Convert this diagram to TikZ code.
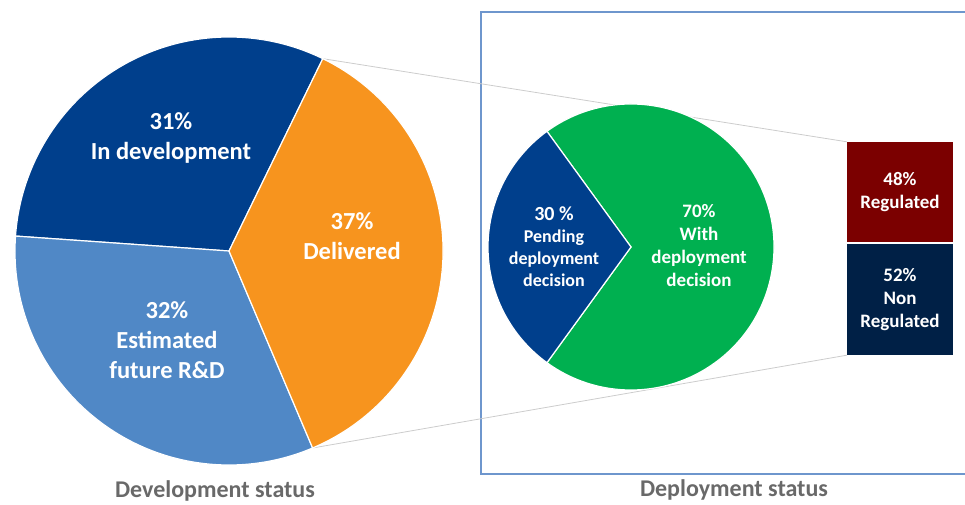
\documentclass[tikz,border=0pt]{standalone}
\usepackage{fontspec}
\setmainfont{Carlito}
\usepackage{tikz}
\usetikzlibrary{positioning,calc}

\definecolor{devblue}{RGB}{0,63,140}
\definecolor{delorange}{RGB}{247,148,30}
\definecolor{futblue}{RGB}{80,136,198}
\definecolor{depgreen}{RGB}{0,176,80}
\definecolor{regred}{RGB}{123,0,0}
\definecolor{nonnavy}{RGB}{0,32,70}
\definecolor{boxblue}{RGB}{110,150,205}
\definecolor{titlegray}{RGB}{105,105,105}

\begin{document}
\begin{tikzpicture}[x=1pt,y=1pt,
  slice/.style={draw=white,line width=1.2pt},
  biglbl/.style={text=white,align=center,font=\bfseries\fontsize{24.5}{30}\selectfont},
  smalllbl/.style={text=white,align=center,font=\bfseries\fontsize{18}{22}\selectfont},
  bar/.style={minimum width=106pt,text=white,align=center,inner sep=0pt,
    font=\bfseries\fontsize{19}{23}\selectfont},
  title/.style={text=titlegray,font=\bfseries\fontsize{24}{28}\selectfont}]
  \useasboundingbox (0,0) rectangle (965,504);

  % zoom frame
  \draw[boxblue,line width=1.2pt] (965,492) -- (481,492) -- (481,30) -- (965,30);

  % regulation bars
  \node[bar,fill=regred,minimum height=100pt] (reg) at (900,312) {48\%\\Regulated};
  \node[bar,fill=nonnavy,minimum height=111pt] (nonreg) at (900,204.5) {52\%\\Non\\Regulated};

  % development pie
  \coordinate (dc) at (229,253);
  \coordinate (dtop) at ($(dc)+(64:214)$);
  \coordinate (dbot) at ($(dc)+(-67:214)$);
  \draw[gray!40,line width=0.8pt] (dtop) -- (reg.north west);
  \draw[gray!40,line width=0.8pt] (dbot) -- (nonreg.south west);
  \filldraw[slice,fill=devblue] (dc) -- ++(64:214) arc[start angle=64,end angle=176,radius=214] -- cycle;
  \filldraw[slice,fill=futblue] (dc) -- ++(176:214) arc[start angle=176,end angle=293,radius=214] -- cycle;
  \filldraw[slice,fill=delorange] (dc) -- ++(-67:214) arc[start angle=-67,end angle=64,radius=214] -- cycle;

  % deployment pie
  \coordinate (pc) at (631,257);
  \filldraw[slice,fill=depgreen] (pc) -- ++(126:143) arc[start angle=126,end angle=-126,radius=143] -- cycle;
  \filldraw[slice,fill=devblue] (pc) -- ++(126:143) arc[start angle=126,end angle=234,radius=143] -- cycle;

  \node[biglbl] (indev) at (171,366) {31\%\\In development};
  \node[biglbl] (deliv) at (352,267.5) {37\%\\Delivered};
  \node[biglbl] (future) at (167,164) {32\%\\Estimated\\future R\&D};
  \node[smalllbl] (pend) at (554,257.5) {{\fontsize{20}{22}\selectfont 30 \%}\\Pending\\deployment\\decision};
  \node[smalllbl,font=\bfseries\fontsize{19}{23}\selectfont] (withdec) at (699,258) {70\%\\With\\deployment\\decision};

  \node[title] (devtitle) at (215,13) {Development status};
  \node[title] (deptitle) at (734,14) {Deployment status};
\end{tikzpicture}
\end{document}
